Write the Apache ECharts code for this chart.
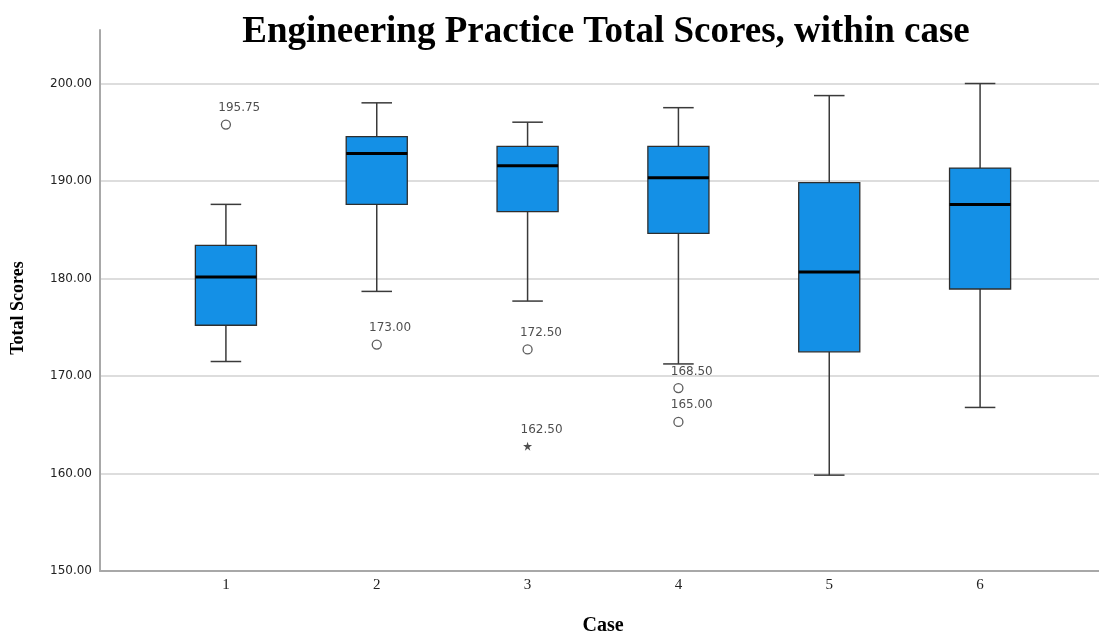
<!DOCTYPE html>
<html>
<head>
<meta charset="utf-8">
<script src="https://cdn.jsdelivr.net/npm/echarts@6/dist/echarts.min.js"></script>
<style>
  html, body { margin: 0; padding: 0; background: #fff; }
  #chart { width: 1099px; height: 641px; }
</style>
</head>
<body>
<div id="chart"></div>
<script>
// Case labels on the x axis
const cases = ['1', '2', '3', '4', '5', '6'];

// Five-number summaries per case (whisker low, Q1, median, Q3, whisker high)
const whiskerLow  = [171.25, 178.50, 177.50, 171.00, 159.50, 166.50];
const q1          = [175.00, 187.50, 186.75, 184.50, 172.25, 178.75];
const median      = [180.00, 192.75, 191.50, 190.25, 180.50, 187.50];
const q3          = [183.25, 194.50, 193.50, 193.50, 189.75, 191.25];
const whiskerHigh = [187.50, 198.00, 196.00, 197.50, 198.75, 200.00];

// Outliers (circles) and extreme values (stars): [case index, score]
const outliers = [[0, 195.75], [1, 173.00], [2, 172.50], [3, 168.50], [3, 165.00]];
const extremes = [[2, 162.50]];

// Y axis ticks
const yMin = 150, yMax = 200, yStep = 10;

const boxData = cases.map((c, i) => [i, whiskerLow[i], q1[i], median[i], q3[i], whiskerHigh[i]]);

const starPath = 'path://M50,0 L61,35 L98,35 L68,57 L79,91 L50,70 L21,91 L32,57 L2,35 L39,35 Z';
const serif = '"Liberation Serif", "Times New Roman", serif';
const sans = '"DejaVu Sans", Tahoma, sans-serif';

function renderBox(params, api) {
  const idx = api.value(0);
  const pLow = api.coord([idx, api.value(1)]);
  const pQ1 = api.coord([idx, api.value(2)]);
  const pMed = api.coord([idx, api.value(3)]);
  const pQ3 = api.coord([idx, api.value(4)]);
  const pHigh = api.coord([idx, api.value(5)]);
  const band = api.size([1, 0])[0];
  const bw = band * 0.405;
  const cw = bw / 2;
  const cx = pMed[0];
  const whisk = { stroke: '#3a3a3a', lineWidth: 1.5 };
  return {
    type: 'group',
    children: [
      { type: 'line', shape: { x1: cx, y1: pHigh[1], x2: cx, y2: pQ3[1] }, style: whisk },
      { type: 'line', shape: { x1: cx, y1: pQ1[1], x2: cx, y2: pLow[1] }, style: whisk },
      { type: 'line', shape: { x1: cx - cw / 2, y1: pHigh[1], x2: cx + cw / 2, y2: pHigh[1] }, style: whisk },
      { type: 'line', shape: { x1: cx - cw / 2, y1: pLow[1], x2: cx + cw / 2, y2: pLow[1] }, style: whisk },
      { type: 'rect', shape: { x: cx - bw / 2, y: pQ3[1], width: bw, height: pQ1[1] - pQ3[1] },
        style: { fill: '#1490e6', stroke: '#2e2e2e', lineWidth: 1.3 } },
      { type: 'line', shape: { x1: cx - bw / 2, y1: pMed[1], x2: cx + bw / 2, y2: pMed[1] },
        style: { stroke: '#000', lineWidth: 3 } }
    ]
  };
}

const pointLabel = {
  show: true,
  formatter: p => p.value[1].toFixed(2),
  position: [-2.5, -11.5],
  align: 'left',
  verticalAlign: 'middle',
  fontFamily: sans,
  fontSize: 12,
  color: '#222'
};

const chart = echarts.init(document.getElementById('chart'), null, { renderer: 'canvas' });
chart.setOption({
  backgroundColor: '#fff',
  animation: false,
  title: {
    text: 'Engineering Practice Total Scores, within case',
    left: 601,
    textAlign: 'center',
    top: 9,
    textStyle: { fontFamily: serif, fontWeight: 'bold', fontSize: 37, color: '#000' }
  },
  graphic: [{
    type: 'text',
    x: 18, y: 308,
    rotation: Math.PI / 2,
    style: {
      text: 'Total Scores',
      font: 'bold 18px ' + serif,
      fill: '#000',
      textAlign: 'center',
      textVerticalAlign: 'middle'
    }
  }],
  grid: [
    { left: 100, right: 0, top: 30, bottom: 70 },
    { left: 100, right: 0, top: 83.5, bottom: 70 },
    { left: 150.5, width: 905, top: 83.5, bottom: 70 }
  ],
  xAxis: [
    { gridIndex: 0, type: 'value', min: 0, max: 1, z: 5,
      axisLine: { show: true, lineStyle: { color: '#a8a8a8', width: 2 } },
      axisTick: { show: false }, axisLabel: { show: false }, splitLine: { show: false } },
    { gridIndex: 1, type: 'value', min: 0, max: 1, show: false },
    { gridIndex: 2, type: 'category', data: cases,
      axisLine: { show: false }, axisTick: { show: false },
      axisLabel: { margin: 11, fontFamily: serif, fontSize: 15, color: '#222' },
      name: 'Case', nameLocation: 'middle', nameGap: 49,
      nameTextStyle: { fontFamily: serif, fontWeight: 'bold', fontSize: 20, color: '#000' } }
  ],
  yAxis: [
    { gridIndex: 0, type: 'value', min: 150, max: 205.5, z: 5,
      axisLine: { show: true, lineStyle: { color: '#a8a8a8', width: 2 } },
      axisTick: { show: false }, axisLabel: { show: false }, splitLine: { show: false } },
    { gridIndex: 1, type: 'value', min: yMin, max: yMax, interval: yStep,
      axisLine: { show: false }, axisTick: { show: false },
      axisLabel: { margin: 8, fontFamily: sans, fontSize: 12, color: '#222',
        formatter: v => v.toFixed(2) },
      splitLine: { show: true, showMinLine: false, lineStyle: { color: '#d2d2d2', width: 1.5 } } },
    { gridIndex: 2, type: 'value', min: yMin, max: yMax, show: false }
  ],
  series: [
    {
      type: 'custom',
      xAxisIndex: 2, yAxisIndex: 2,
      renderItem: renderBox,
      encode: { x: 0, y: [1, 2, 3, 4, 5] },
      data: boxData,
      z: 3
    },
    {
      type: 'scatter',
      xAxisIndex: 2, yAxisIndex: 2,
      symbol: 'circle', symbolSize: 9,
      itemStyle: { color: '#fff', borderColor: '#333', borderWidth: 1.3 },
      label: pointLabel,
      data: outliers,
      z: 4
    },
    {
      type: 'scatter',
      xAxisIndex: 2, yAxisIndex: 2,
      symbol: starPath, symbolSize: 9,
      itemStyle: { color: '#222' },
      label: pointLabel,
      data: extremes,
      z: 4
    }
  ]
});
</script>
</body>
</html>
